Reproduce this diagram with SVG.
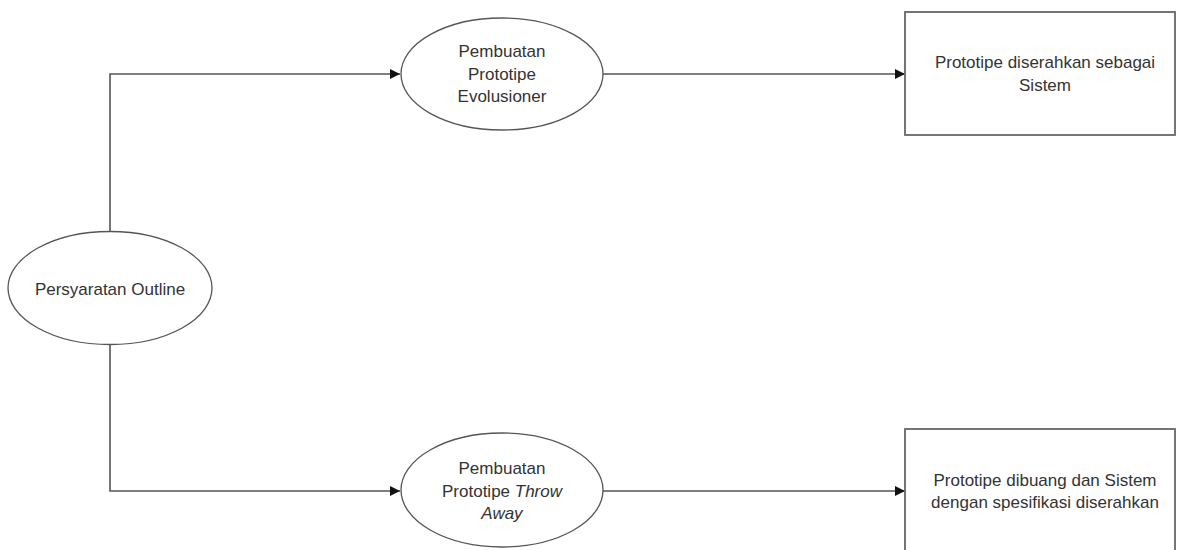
<svg xmlns="http://www.w3.org/2000/svg" width="1178" height="550" viewBox="0 0 1178 550">
  <style>
    .shape { fill: #ffffff; stroke: #555555; stroke-width: 1.3; }
    .box { fill: #ffffff; stroke: #666666; stroke-width: 1.8; }
    .wire { fill: none; stroke: #555555; stroke-width: 1.6; }
    .label { font-family: "Liberation Sans", Arial, sans-serif; font-size: 17px; fill: #333333; text-anchor: middle; }
  </style>
  <defs>
    <marker id="arrow" viewBox="0 0 10 10" refX="10" refY="5" markerWidth="11" markerHeight="10" markerUnits="userSpaceOnUse" orient="auto">
      <path d="M0,0 L10,5 L0,10 z" fill="#111111"/>
    </marker>
  </defs>
  <rect width="1178" height="550" fill="#ffffff"/>

  <!-- connectors -->
  <g id="connectors">
    <path class="wire" d="M110,231 V74 H400" marker-end="url(#arrow)"/>
    <path class="wire" d="M110,344 V491 H400" marker-end="url(#arrow)"/>
    <path class="wire" d="M603,74 H905" marker-end="url(#arrow)"/>
    <path class="wire" d="M603,491 H905" marker-end="url(#arrow)"/>
  </g>

  <!-- start node -->
  <g id="persyaratan">
    <ellipse class="shape" cx="110" cy="288" rx="102" ry="56.5"/>
    <text class="label" x="110" y="295">Persyaratan Outline</text>
  </g>

  <!-- evolutionary prototyping -->
  <g id="evolusioner">
    <ellipse class="shape" cx="502" cy="74" rx="101" ry="56"/>
    <text class="label" x="502" y="57">Pembuatan</text>
    <text class="label" x="502" y="80">Prototipe</text>
    <text class="label" x="502" y="102">Evolusioner</text>
  </g>

  <!-- throw-away prototyping -->
  <g id="throwaway">
    <ellipse class="shape" cx="502" cy="490" rx="101" ry="57"/>
    <text class="label" x="502" y="474">Pembuatan</text>
    <text class="label" x="502" y="497">Prototipe <tspan font-style="italic">Throw</tspan></text>
    <text class="label" x="502" y="519" font-style="italic">Away</text>
  </g>

  <!-- outcome: prototype becomes the system -->
  <g id="hasil-evolusioner">
    <rect class="box" x="905" y="12" width="270" height="123"/>
    <text class="label" x="1045" y="68">Prototipe diserahkan sebagai</text>
    <text class="label" x="1045" y="91">Sistem</text>
  </g>

  <!-- outcome: prototype discarded -->
  <g id="hasil-throwaway">
    <rect class="box" x="905" y="429" width="270" height="140"/>
    <text class="label" x="1045" y="486">Prototipe dibuang dan Sistem</text>
    <text class="label" x="1045" y="508">dengan spesifikasi diserahkan</text>
  </g>
</svg>
